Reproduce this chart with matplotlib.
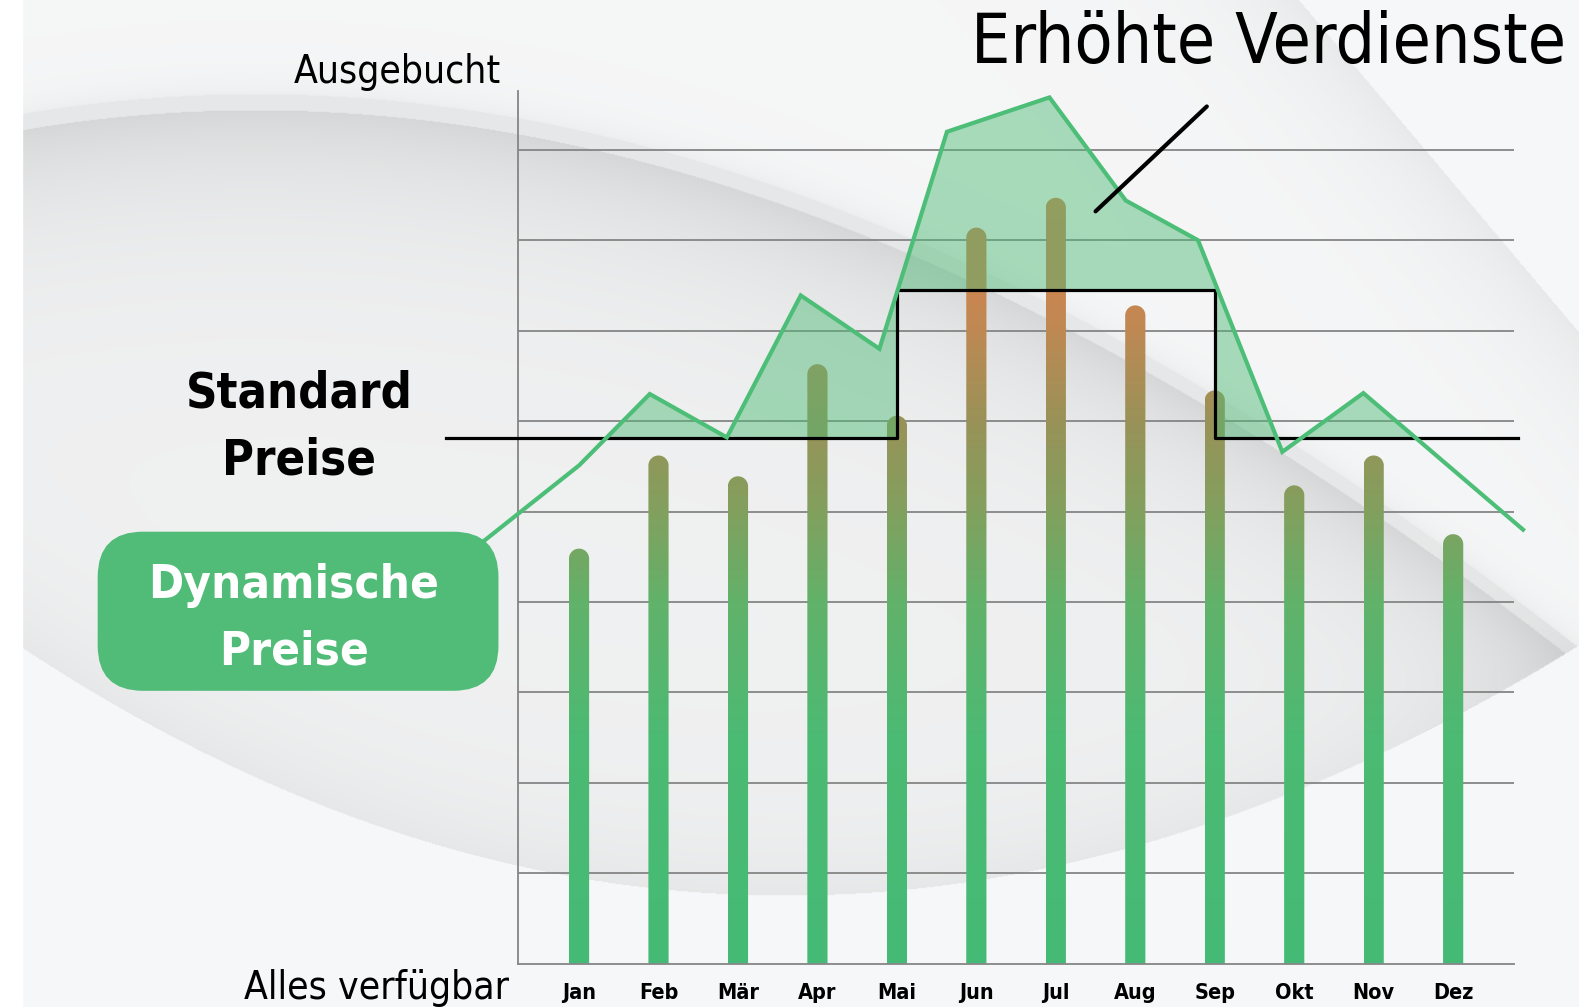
import numpy as np
import matplotlib
matplotlib.use('Agg')
import matplotlib.pyplot as plt
from matplotlib import font_manager as fm
from matplotlib.patches import FancyBboxPatch, PathPatch, Polygon, Rectangle
from matplotlib.path import Path
from matplotlib.colors import LinearSegmentedColormap

# --- data (grid units 0..9) ---
months = ['Jan', 'Feb', 'Mär', 'Apr', 'Mai', 'Jun', 'Jul', 'Aug', 'Sep', 'Okt', 'Nov', 'Dez']
occupancy = [4.59, 5.62, 5.39, 6.63, 6.06, 8.14, 8.47, 7.28, 6.34, 5.29, 5.62, 4.75]

# dynamic price curve (x in month index units)
dyn_x = [-1.19, 0.0, 0.89, 1.86, 2.79, 3.78, 4.63, 5.92, 6.88, 7.79, 8.85, 9.87, 11.88]
dyn_y = [4.68, 5.51, 6.30, 5.82, 7.39, 6.80, 9.20, 9.58, 8.44, 8.00, 5.66, 6.31, 4.80]

# standard price step
std_x = [-1.67, 4, 4, 8, 8, 11.81]
std_y = [5.81, 5.81, 7.45, 7.45, 5.81, 5.81]

grid_levels = list(range(1, 10))

# colour of the bars by height
bar_stops = [(0.0, '#45BA76'), (2.5, '#4CBA73'), (4.0, '#62B26A'), (5.0, '#82A05E'),
             (6.0, '#999258'), (7.0, '#BE8953'), (7.6, '#CE8550'), (9.655, '#D4824E')]


# pick a narrow font if there is one
def narrow_font():
    try:
        fm.findfont(fm.FontProperties(family='Liberation Sans Narrow'), fallback_to_default=False)
        return {'family': 'Liberation Sans Narrow'}
    except ValueError:
        pass
    p = fm.findfont(fm.FontProperties(family='DejaVu Sans', stretch='condensed'))
    if 'Condensed' in p:
        return {'family': 'DejaVu Sans', 'stretch': 'condensed'}
    return {'family': 'DejaVu Sans'}

FONT = narrow_font()

W, H = 1568, 1000
fig = plt.figure(figsize=(15.79, 10.07), dpi=100)

# --- background (soft paper curl), in pixel-like coordinates ---
bg = fig.add_axes([0, 0, 1, 1])
bg.set_xlim(0, W)
bg.set_ylim(H, 0)
bg.axis('off')


def smooth_curve(px, py, x):
    return np.polyval(np.polyfit(px, py, 3), x)

xx, yy = np.meshgrid(np.arange(W) + 0.5, np.arange(H) + 0.5)
# curl edge
yc = smooth_curve([22, 250, 500, 700, 900, 1100, 1300, 1568],
                  [110, 100, 115, 160, 230, 330, 460, 640], xx)
d = yy - yc
above = d < 0
dpos = np.maximum(d, 0)
v = np.where(above, 0.962 - 0.03 * np.exp(np.minimum(d, 0) / 16),
             np.where(d < 16, 0.905, 0.94 - 0.10 * np.exp(-(dpos - 16) / 80)))
# top right fold
xl = 1290 + yy * (278 / 330)
s = xx - xl
v = np.where(above & (s > 0), 0.968, v)
v = np.where(above & (s <= 0), v - 0.05 * np.exp(np.minimum(s, 0) / 70), v)
# lower sweep
yl = smooth_curve([22, 300, 518, 700, 900, 1100, 1350, 1568],
                  [643, 790, 867, 883, 880, 850, 760, 640], xx)
dl = yy - yl
v = np.where((dl < 0) & ~above, v - 0.035 * np.exp(np.minimum(dl, 0) / 60), v)
v = np.where(dl >= 0, 0.968, v)
rgb = np.clip(np.dstack([v, v + 0.003, v + 0.006]), 0, 1)
bg.imshow(rgb, extent=[0, W, H, 0], aspect='auto', zorder=0, interpolation='bilinear')
bg.add_patch(Rectangle((0, 0), 22, H, color='white', zorder=1))

# --- label box and texts ---
bg.add_patch(FancyBboxPatch((97, 528), 398, 158, boxstyle='round,pad=0,rounding_size=45',
                            facecolor='#50BC78', edgecolor='none', zorder=3))
bg.text(292, 594, 'Dynamische', color='white', fontsize=34, fontweight='bold',
        ha='center', va='baseline', zorder=4, **FONT)
bg.text(292, 660, 'Preise', color='white', fontsize=34, fontweight='bold',
        ha='center', va='baseline', zorder=4, **FONT)
bg.text(297, 405, 'Standard', color='black', fontsize=35, fontweight='bold',
        ha='center', va='baseline', zorder=4, **FONT)
bg.text(297, 471, 'Preise', color='black', fontsize=35, fontweight='bold',
        ha='center', va='baseline', zorder=4, **FONT)
bg.text(1555, 63, 'Erhöhte Verdienste', color='black', fontsize=50,
        ha='right', va='baseline', zorder=4, **FONT)
bg.text(497, 82, 'Ausgebucht', color='black', fontsize=28,
        ha='right', va='baseline', zorder=4, **FONT)
bg.text(505, 992, 'Alles verfügbar', color='black', fontsize=28,
        ha='right', va='baseline', zorder=4, **FONT)

# --- chart ---
ax = fig.add_axes([514 / W, 1 - 957 / H, (1503 - 514) / W, (957 - 90) / H])
ax.patch.set_visible(False)
xmin, xmax, ymax = -0.773, 11.76, 9.655
ax.set_xlim(xmin, xmax)
ax.set_ylim(0, ymax)
for s_ in ['top', 'right']:
    ax.spines[s_].set_visible(False)
for s_ in ['left', 'bottom']:
    ax.spines[s_].set_color('#858585')
    ax.spines[s_].set_linewidth(1.3)
ax.set_yticks(grid_levels)
ax.set_yticklabels([])
ax.yaxis.grid(True, color='#858585', linewidth=1.3)
ax.set_axisbelow(True)
ax.set_xticks(range(len(months)))
ax.set_xticklabels(months, fontsize=15.5, fontweight='bold', **FONT)
ax.tick_params(length=0)
ax.tick_params(axis='x', pad=14)

cmap = LinearSegmentedColormap.from_list('occ', [(val / ymax, c) for val, c in bar_stops])

# bars with rounded tops and a height gradient
p0 = ax.transData.transform((0, 0))
p1 = ax.transData.transform((1, 1))
hw = 0.127
ry = hw * (p1[0] - p0[0]) / (p1[1] - p0[1])
grad = np.linspace(0, ymax, 256).reshape(-1, 1)
t = np.linspace(np.pi, 0, 40)
for i, top in enumerate(occupancy):
    verts = [(i - hw, 0), (i - hw, top - ry)]
    verts += [(i + hw * np.cos(a), top - ry + ry * np.sin(a)) for a in t]
    verts += [(i + hw, 0), (i - hw, 0)]
    patch = PathPatch(Path(verts, closed=True), facecolor='none', edgecolor='none',
                      transform=ax.transData)
    ax.add_patch(patch)
    im = ax.imshow(grad, extent=[i - hw, i + hw, 0, ymax], origin='lower', cmap=cmap,
                   vmin=0, vmax=ymax, aspect='auto', interpolation='bilinear', zorder=2)
    im.set_clip_path(patch)

# shaded gain: under the dynamic curve, above the standard step
fill = Polygon(list(zip(dyn_x, dyn_y)) + [(dyn_x[-1], 0), (dyn_x[0], 0)], closed=True,
               facecolor='#4DBB75', edgecolor='none', alpha=0.47, zorder=3)
ax.add_patch(fill)
clip = Polygon([(std_x[0], 30)] + list(zip(std_x, std_y)) + [(std_x[-1], 30)], closed=True,
               facecolor='none', edgecolor='none', transform=ax.transData)
fill.set_clip_path(clip)

ax.plot(std_x, std_y, color='black', linewidth=2.3, clip_on=False, zorder=4)
ax.plot(dyn_x, dyn_y, color='#4DBE78', linewidth=3, clip_on=False, zorder=5,
        solid_joinstyle='miter')
# pointer to the gain area
ax.plot([7.90, 6.50], [9.48, 8.32], color='black', linewidth=3, clip_on=False,
        solid_capstyle='round', zorder=6)

ax.set_xlim(xmin, xmax)
ax.set_ylim(0, ymax)

fig.savefig('out.png', dpi=100)
